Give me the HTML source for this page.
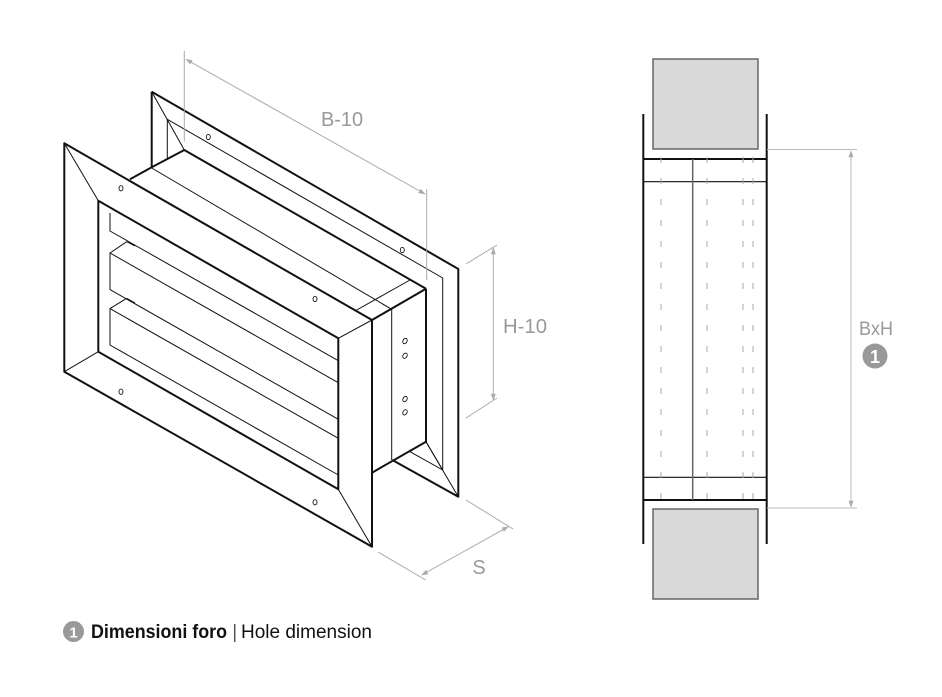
<!DOCTYPE html>
<html><head><meta charset="utf-8"><style>
html,body{margin:0;padding:0;background:#fff;}
svg{display:block;}
</style></head><body>
<svg width="942" height="697" viewBox="0 0 942 697" xmlns="http://www.w3.org/2000/svg">
<defs>
<marker id="ar" viewBox="0 0 10 10" refX="9" refY="5" markerWidth="7" markerHeight="7" orient="auto-start-reverse"><path d="M0,1.5 L10,5 L0,8.5 z" fill="#aaa"/></marker>
</defs>
<!-- LEFT VIEW -->
<g fill="none" stroke="#111" stroke-linejoin="round">
<!-- back flange -->
<g stroke-width="2">
<path d="M151.7,91.7 L458.3,269 L458.3,496.7 L392.3,460"/>
<path d="M151.7,91.7 L151.7,167.3 L184.3,150 L426,288.7"/>
<path d="M130,179.3 L151.7,167.3"/>
<path d="M426,288.7 L426,441.7 L372,472.7"/>
<path d="M372,320 L426,288.7"/>
</g>
<g stroke-width="1">
<path d="M151.7,91.7 L184.3,150"/>
<path d="M167.3,119.3 L167.3,158"/>
<path d="M167.3,119.3 L442.7,278 L442.7,470 L410,451.7"/>
<path d="M426,441.7 L458.3,496.7"/>
<path d="M426,441.7 L442.7,470"/>
<path d="M151.7,168 L391.7,309.3"/>
<path d="M356.7,310 L410,280"/>
<path d="M391.7,309.3 L391.7,460"/>
</g>
<!-- front flange -->
<g stroke-width="2">
<path d="M64.3,143.3 L372,320 L372,546.7 L64.3,371.7 Z"/>
<path d="M98.3,200.7 L338.3,338.3 L338.3,489.3 L98.3,351.7 Z"/>
</g>
<g stroke-width="1">
<path d="M64.3,143.3 L98.3,200.7"/>
<path d="M64.3,371.7 L98.3,351.7"/>
<path d="M372,546.7 L338.3,489.3"/>
<path d="M372,320 L338.3,338.3"/>
<!-- louvers -->
<path d="M110,213 L110,231 L338.3,360.7"/>
<path d="M126.7,241.7 L110,253 L110,289.6 L338.3,419.3"/>
<path d="M110,253 L338.3,382.7"/>
<path d="M126.7,241.7 L135,246"/>
<path d="M126.7,298.3 L110,308.6 L110,345 L338.3,475"/>
<path d="M110,308.6 L338.3,438.3"/>
<path d="M126.7,298.3 L135,303"/>
</g>
<!-- holes -->
<g stroke-width="0.9">
<ellipse cx="121" cy="188.3" rx="2" ry="2.6"/>
<ellipse cx="208.3" cy="137" rx="2" ry="2.6"/>
<ellipse cx="315" cy="299" rx="2" ry="2.6"/>
<ellipse cx="402.3" cy="250" rx="2" ry="2.6"/>
<ellipse cx="121" cy="391.7" rx="2" ry="2.6"/>
<ellipse cx="315" cy="502.3" rx="2" ry="2.6"/>
<ellipse cx="405" cy="341" rx="2" ry="2.8" transform="rotate(30 405 341)"/>
<ellipse cx="405" cy="355.7" rx="2" ry="2.8" transform="rotate(30 405 355.7)"/>
<ellipse cx="405" cy="399" rx="2" ry="2.8" transform="rotate(30 405 399)"/>
<ellipse cx="405" cy="412.3" rx="2" ry="2.8" transform="rotate(30 405 412.3)"/>
</g>
</g>
<!-- dimensions left -->
<g stroke="#aaa" stroke-width="1" fill="none">
<path d="M184.3,51 L184.3,141.7"/>
<path d="M426.7,189 L426.7,280"/>
<path d="M186,59.3 L425,194" marker-start="url(#ar)" marker-end="url(#ar)"/>
<path d="M466,264 L497,245"/>
<path d="M466,418 L497,398"/>
<path d="M493.3,248 L493.3,400" marker-start="url(#ar)" marker-end="url(#ar)"/>
<path d="M378,552 L425.7,580"/>
<path d="M466,500 L513,529"/>
<path d="M421.7,575 L508.3,526.7" marker-start="url(#ar)" marker-end="url(#ar)"/>
</g>
<g font-family="'Liberation Sans', sans-serif" font-size="20" fill="#999" text-anchor="middle">
<text x="342" y="126" textLength="42" lengthAdjust="spacingAndGlyphs">B-10</text>
<text x="525" y="333" textLength="44" lengthAdjust="spacingAndGlyphs">H-10</text>
<text x="479" y="574">S</text>
</g>
<!-- RIGHT VIEW -->
<g>
<rect x="653" y="59" width="105" height="90" fill="#d9d9d9" stroke="#666" stroke-width="1.5"/>
<rect x="653" y="509" width="105" height="90" fill="#d9d9d9" stroke="#666" stroke-width="1.5"/>
<g stroke="#111" fill="none">
<path d="M643.3,114 L643.3,544 M766.7,114 L766.7,544" stroke-width="2"/>
<path d="M643.3,159 L766.7,159 M643.3,500 L766.7,500" stroke-width="2"/>
<path d="M643.3,181.7 L766.7,181.7 M643.3,477.3 L766.7,477.3" stroke-width="1.2"/>
</g>
<path d="M692.7,159 L692.7,500" stroke="#666" stroke-width="1.5"/>
<g stroke="#aaa" stroke-width="1" stroke-dasharray="6 15" fill="none">
<path d="M661,157 L661,500 M707,157 L707,500 M743,157 L743,500 M753,157 L753,500"/>
</g>
<g stroke="#bbb" stroke-width="1" fill="none">
<path d="M767,149.5 L857,149.5 M767,508 L857,508"/>
<path d="M851,151 L851,507" marker-start="url(#ar)" marker-end="url(#ar)"/>
</g>
<text x="876" y="335" font-family="'Liberation Sans', sans-serif" font-size="19" fill="#999" text-anchor="middle" textLength="34" lengthAdjust="spacingAndGlyphs">BxH</text>
<circle cx="875" cy="356" r="12.5" fill="#999"/>
<text x="875" y="363" font-family="'Liberation Sans', sans-serif" font-size="18" font-weight="bold" fill="#fff" text-anchor="middle">1</text>
</g>
<!-- legend -->
<circle cx="73.5" cy="631.5" r="10.5" fill="#999"/>
<text x="73.5" y="637.5" font-family="'Liberation Sans', sans-serif" font-size="15" font-weight="bold" fill="#fff" text-anchor="middle">1</text>
<text x="91" y="638" font-family="'Liberation Sans', sans-serif" font-size="19" fill="#111"><tspan font-weight="bold" textLength="136" lengthAdjust="spacingAndGlyphs">Dimensioni foro</tspan><tspan fill="#555"> | </tspan><tspan x="241" textLength="131" lengthAdjust="spacingAndGlyphs">Hole dimension</tspan></text>
</svg>
</body></html>
